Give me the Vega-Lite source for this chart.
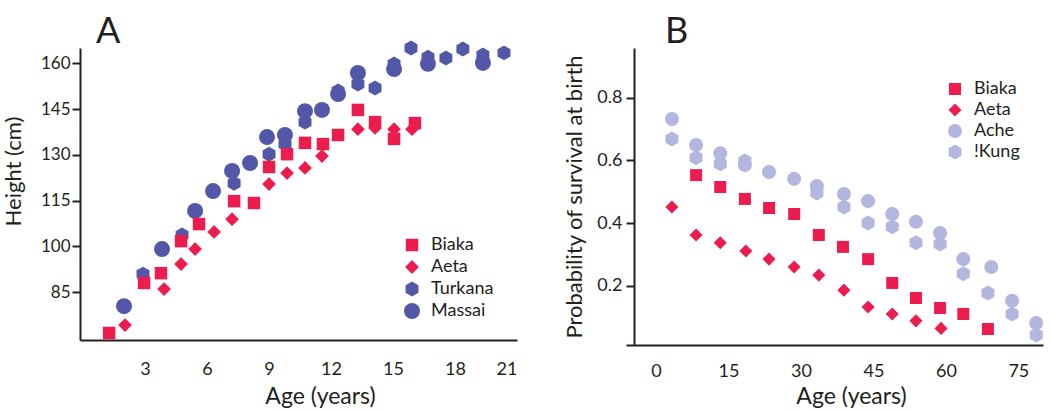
{
  "$schema": "https://vega.github.io/schema/vega-lite/v6.json",
  "padding": {"left": 2, "top": 13, "right": 0, "bottom": 0},
  "spacing": 46,
  "config": {
    "view": {"stroke": null},
    "font": "Lato",
    "axis": {"domainColor": "#231f20", "domainWidth": 2, "tickColor": "#231f20", "tickWidth": 2, "labelColor": "#231f20", "titleColor": "#231f20", "grid": false, "titleFontWeight": "normal", "labelFontSize": 17, "titleFontSize": 22},
    "legend": {"labelFontSize": 18, "labelColor": "#231f20", "symbolOpacity": 1, "symbolStrokeWidth": 0, "padding": 0, "labelOffset": 10},
    "title": {"fontWeight": "normal", "fontSize": 36, "anchor": "start", "color": "#231f20", "frame": "group"}
  },
  "hconcat": [
    {
      "width": 437,
      "height": 292,
      "title": {"text": "A", "dx": 16, "offset": -10},
      "data": {"values": [
        {"s": "Biaka", "age": 1.26, "h": 71.6}, {"s": "Biaka", "age": 2.95, "h": 88.0}, {"s": "Biaka", "age": 3.77, "h": 91.2}, {"s": "Biaka", "age": 4.74, "h": 101.7}, {"s": "Biaka", "age": 5.61, "h": 107.3}, {"s": "Biaka", "age": 7.31, "h": 114.8}, {"s": "Biaka", "age": 8.27, "h": 114.2}, {"s": "Biaka", "age": 9.0, "h": 126.0}, {"s": "Biaka", "age": 9.87, "h": 130.2}, {"s": "Biaka", "age": 10.74, "h": 133.9}, {"s": "Biaka", "age": 11.61, "h": 133.5}, {"s": "Biaka", "age": 12.34, "h": 136.5}, {"s": "Biaka", "age": 13.3, "h": 144.7}, {"s": "Biaka", "age": 14.13, "h": 140.7}, {"s": "Biaka", "age": 15.05, "h": 135.2}, {"s": "Biaka", "age": 16.06, "h": 140.4},
        {"s": "Aeta", "age": 2.03, "h": 74.2}, {"s": "Aeta", "age": 3.92, "h": 86.0}, {"s": "Aeta", "age": 4.74, "h": 94.2}, {"s": "Aeta", "age": 5.42, "h": 99.1}, {"s": "Aeta", "age": 6.34, "h": 104.7}, {"s": "Aeta", "age": 7.21, "h": 108.9}, {"s": "Aeta", "age": 9.0, "h": 120.4}, {"s": "Aeta", "age": 9.87, "h": 124.0}, {"s": "Aeta", "age": 10.74, "h": 125.7}, {"s": "Aeta", "age": 11.56, "h": 129.6}, {"s": "Aeta", "age": 13.3, "h": 138.4}, {"s": "Aeta", "age": 14.13, "h": 138.8}, {"s": "Aeta", "age": 15.05, "h": 138.4}, {"s": "Aeta", "age": 15.92, "h": 138.4},
        {"s": "Turkana", "age": 2.9, "h": 90.9}, {"s": "Turkana", "age": 4.79, "h": 103.7}, {"s": "Turkana", "age": 7.31, "h": 120.7}, {"s": "Turkana", "age": 9.0, "h": 130.2}, {"s": "Turkana", "age": 9.77, "h": 133.5}, {"s": "Turkana", "age": 10.74, "h": 140.7}, {"s": "Turkana", "age": 12.34, "h": 150.9}, {"s": "Turkana", "age": 13.3, "h": 153.2}, {"s": "Turkana", "age": 14.13, "h": 151.9}, {"s": "Turkana", "age": 15.05, "h": 159.8}, {"s": "Turkana", "age": 15.87, "h": 165.0}, {"s": "Turkana", "age": 16.69, "h": 162.0}, {"s": "Turkana", "age": 17.56, "h": 161.7}, {"s": "Turkana", "age": 18.38, "h": 164.7}, {"s": "Turkana", "age": 19.35, "h": 162.7}, {"s": "Turkana", "age": 20.37, "h": 163.4},
        {"s": "Massai", "age": 1.98, "h": 80.4}, {"s": "Massai", "age": 3.82, "h": 99.1}, {"s": "Massai", "age": 5.42, "h": 111.6}, {"s": "Massai", "age": 6.29, "h": 118.1}, {"s": "Massai", "age": 7.21, "h": 124.7}, {"s": "Massai", "age": 8.08, "h": 127.3}, {"s": "Massai", "age": 8.9, "h": 135.8}, {"s": "Massai", "age": 9.77, "h": 136.5}, {"s": "Massai", "age": 10.74, "h": 144.3}, {"s": "Massai", "age": 11.56, "h": 144.7}, {"s": "Massai", "age": 12.34, "h": 149.9}, {"s": "Massai", "age": 13.3, "h": 156.8}, {"s": "Massai", "age": 15.05, "h": 158.1}, {"s": "Massai", "age": 16.69, "h": 159.8}, {"s": "Massai", "age": 19.35, "h": 160.1}
      ]},
      "mark": {"type": "point", "filled": true, "opacity": 1},
      "encoding": {
        "x": {"field": "age", "type": "quantitative", "scale": {"domain": [-0.15, 21], "nice": false, "zero": false},
              "axis": {"values": [3, 6, 9, 12, 15, 18, 21], "ticks": false, "tickSize": 0, "labelPadding": 20, "labelFontSize": 18, "title": "Age (years)", "titleFontSize": 23, "titlePadding": 7, "titleX": 240}},
        "y": {"field": "h", "type": "quantitative", "scale": {"domain": [69.3, 165], "nice": false, "zero": false},
              "axis": {"values": [85, 100, 115, 130, 145, 160], "tickSize": 8, "labelPadding": 2, "title": "Height (cm)", "titlePadding": 15, "titleY": 123}},
        "shape": {"field": "s", "type": "nominal", "scale": {"domain": ["Biaka", "Aeta", "Turkana", "Massai"], "range": ["square", "diamond", "M0,-1L0.866,-0.5L0.866,0.5L0,1L-0.866,0.5L-0.866,-0.5Z", "circle"]},
                  "legend": {"title": null, "orient": "none", "legendX": 323, "legendY": 188, "rowPadding": 4}},
        "color": {"field": "s", "type": "nominal", "scale": {"domain": ["Biaka", "Aeta", "Turkana", "Massai"], "range": ["#ec1c4e", "#ec1c4e", "#5258a7", "#5258a7"]}},
        "size": {"field": "s", "type": "nominal", "scale": {"domain": ["Biaka", "Aeta", "Turkana", "Massai"], "range": [156, 256, 196, 225]}},
        "order": {"field": "s", "sort": "descending"}
      }
    },
    {
      "width": 409,
      "height": 297,
      "title": {"text": "B", "dx": 31, "offset": -3},
      "data": {"values": [
        {"s": "Biaka", "age": 8.3, "p": 0.553}, {"s": "Biaka", "age": 13.3, "p": 0.515}, {"s": "Biaka", "age": 18.4, "p": 0.477}, {"s": "Biaka", "age": 23.4, "p": 0.448}, {"s": "Biaka", "age": 28.6, "p": 0.429}, {"s": "Biaka", "age": 33.7, "p": 0.362}, {"s": "Biaka", "age": 38.7, "p": 0.324}, {"s": "Biaka", "age": 43.9, "p": 0.285}, {"s": "Biaka", "age": 48.9, "p": 0.209}, {"s": "Biaka", "age": 53.8, "p": 0.161}, {"s": "Biaka", "age": 58.8, "p": 0.129}, {"s": "Biaka", "age": 63.6, "p": 0.110}, {"s": "Biaka", "age": 68.7, "p": 0.062},
        {"s": "Aeta", "age": 3.3, "p": 0.451}, {"s": "Aeta", "age": 8.3, "p": 0.362}, {"s": "Aeta", "age": 13.3, "p": 0.337}, {"s": "Aeta", "age": 18.6, "p": 0.311}, {"s": "Aeta", "age": 23.4, "p": 0.285}, {"s": "Aeta", "age": 28.6, "p": 0.260}, {"s": "Aeta", "age": 33.7, "p": 0.234}, {"s": "Aeta", "age": 38.9, "p": 0.186}, {"s": "Aeta", "age": 43.9, "p": 0.132}, {"s": "Aeta", "age": 48.9, "p": 0.110}, {"s": "Aeta", "age": 53.8, "p": 0.088}, {"s": "Aeta", "age": 59.0, "p": 0.064},
        {"s": "Ache", "age": 3.3, "p": 0.732}, {"s": "Ache", "age": 8.3, "p": 0.649}, {"s": "Ache", "age": 13.3, "p": 0.623}, {"s": "Ache", "age": 18.4, "p": 0.585}, {"s": "Ache", "age": 23.4, "p": 0.563}, {"s": "Ache", "age": 28.6, "p": 0.541}, {"s": "Ache", "age": 33.3, "p": 0.518}, {"s": "Ache", "age": 38.9, "p": 0.493}, {"s": "Ache", "age": 43.9, "p": 0.470}, {"s": "Ache", "age": 48.9, "p": 0.429}, {"s": "Ache", "age": 53.8, "p": 0.404}, {"s": "Ache", "age": 58.8, "p": 0.368}, {"s": "Ache", "age": 63.6, "p": 0.285}, {"s": "Ache", "age": 69.4, "p": 0.260}, {"s": "Ache", "age": 73.7, "p": 0.152}, {"s": "Ache", "age": 78.7, "p": 0.081},
        {"s": "!Kung", "age": 3.3, "p": 0.668}, {"s": "!Kung", "age": 8.3, "p": 0.608}, {"s": "!Kung", "age": 13.3, "p": 0.589}, {"s": "!Kung", "age": 18.4, "p": 0.598}, {"s": "!Kung", "age": 33.3, "p": 0.496}, {"s": "!Kung", "age": 38.9, "p": 0.451}, {"s": "!Kung", "age": 43.9, "p": 0.400}, {"s": "!Kung", "age": 48.9, "p": 0.388}, {"s": "!Kung", "age": 53.8, "p": 0.337}, {"s": "!Kung", "age": 58.8, "p": 0.333}, {"s": "!Kung", "age": 63.6, "p": 0.238}, {"s": "!Kung", "age": 68.7, "p": 0.177}, {"s": "!Kung", "age": 73.7, "p": 0.110}, {"s": "!Kung", "age": 78.7, "p": 0.043}
      ]},
      "mark": {"type": "point", "filled": true, "opacity": 1},
      "encoding": {
        "x": {"field": "age", "type": "quantitative", "scale": {"domain": [-4.55, 80.1], "nice": false, "zero": false},
              "axis": {"values": [0, 15, 30, 45, 60, 75], "ticks": false, "tickSize": 0, "labelPadding": 17, "labelFontSize": 18, "title": "Age (years)", "titleFontSize": 23, "titlePadding": 5, "titleX": 217}},
        "y": {"field": "p", "type": "quantitative", "scale": {"domain": [0.011, 0.9585], "nice": false, "zero": false},
              "axis": {"values": [0.011, 0.2, 0.4, 0.6, 0.8], "labelExpr": "datum.value < 0.1 ? '' : format(datum.value, '.1f')", "tickSize": 8, "labelPadding": 4, "labelFontSize": 18, "title": "Probability of survival at birth", "titleFontSize": 22, "titlePadding": 10}},
        "shape": {"field": "s", "type": "nominal", "scale": {"domain": ["Biaka", "Aeta", "Ache", "!Kung"], "range": ["square", "diamond", "circle", "M0,-1L0.866,-0.5L0.866,0.5L0,1L-0.866,0.5L-0.866,-0.5Z"]},
                  "legend": {"title": null, "orient": "none", "legendX": 312, "legendY": 32, "rowPadding": 3}},
        "color": {"field": "s", "type": "nominal", "scale": {"domain": ["Biaka", "Aeta", "Ache", "!Kung"], "range": ["#ec1c4e", "#ec1c4e", "#b3b7df", "#b3b7df"]}},
        "size": {"field": "s", "type": "nominal", "scale": {"domain": ["Biaka", "Aeta", "Ache", "!Kung"], "range": [144, 225, 196, 169]}}
      }
    }
  ],
  "resolve": {"scale": {"color": "independent", "shape": "independent", "size": "independent"}, "legend": {"color": "independent", "shape": "independent", "size": "independent"}}
}
